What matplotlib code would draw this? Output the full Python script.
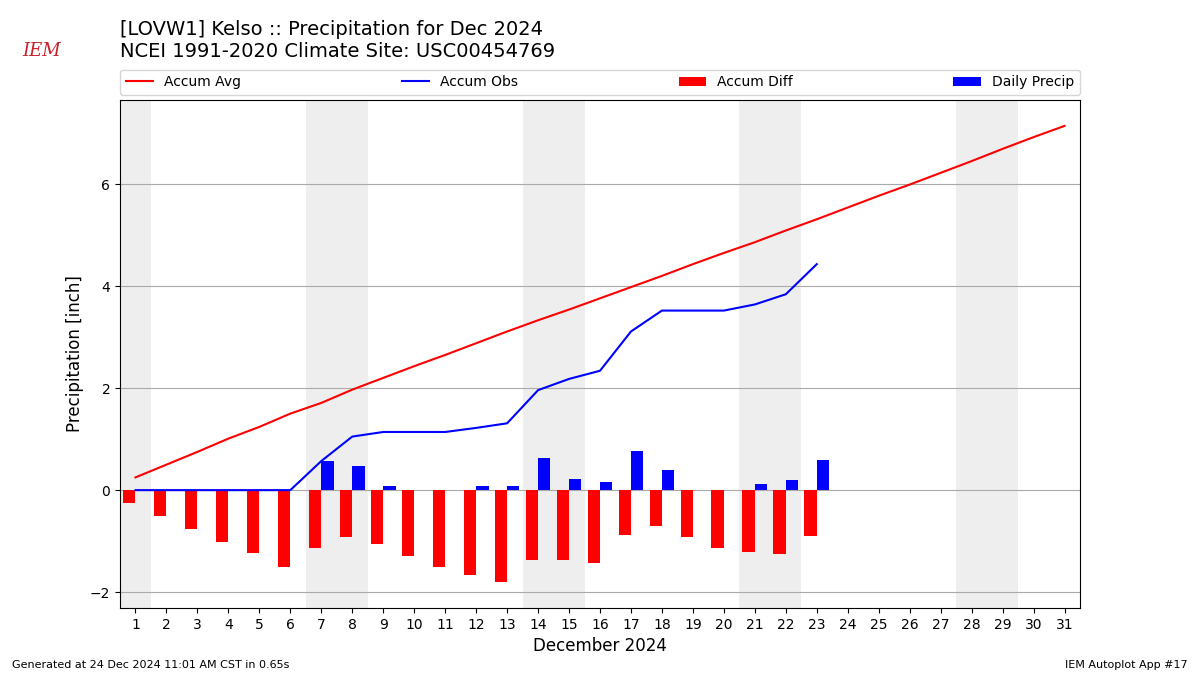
import matplotlib
matplotlib.use('Agg')
import matplotlib.pyplot as plt

days = list(range(1, 32))
accum_avg = [0.25, 0.50, 0.75, 1.01, 1.24, 1.50, 1.71, 1.97, 2.20, 2.43,
             2.65, 2.88, 3.11, 3.33, 3.54, 3.76, 3.98, 4.20, 4.43, 4.65,
             4.86, 5.09, 5.31, 5.54, 5.77, 5.99, 6.22, 6.45, 6.69, 6.92, 7.14]
obs_days = list(range(1, 24))
accum_obs = [0.0, 0.0, 0.0, 0.0, 0.0, 0.0, 0.57, 1.05, 1.14, 1.14,
             1.14, 1.22, 1.31, 1.96, 2.18, 2.34, 3.11, 3.52, 3.52, 3.52,
             3.64, 3.84, 4.43]
daily_precip = [0.0, 0.0, 0.0, 0.0, 0.0, 0.0, 0.57, 0.47, 0.08, 0.0,
                0.0, 0.08, 0.08, 0.63, 0.22, 0.16, 0.77, 0.39, 0.0, 0.0,
                0.12, 0.20, 0.59]
accum_diff = [-0.25, -0.50, -0.76, -1.01, -1.24, -1.50, -1.14, -0.92, -1.06, -1.29,
              -1.51, -1.66, -1.80, -1.37, -1.36, -1.42, -0.87, -0.70, -0.91, -1.13,
              -1.22, -1.25, -0.89]
weekends = [1, 7, 8, 14, 15, 21, 22, 28, 29]

fig = plt.figure(figsize=(12, 6.75), dpi=100)
ax = fig.add_axes([0.1, 0.0993, 0.8, 0.7527])

for d in weekends:
    ax.axvspan(d - 0.5, d + 0.5, color='#eeeeee', zorder=0, lw=0)

ax.plot(days, accum_avg, color='r', label='Accum Avg', zorder=3)
ax.plot(obs_days, accum_obs, color='b', label='Accum Obs', zorder=3)
ax.bar(obs_days, accum_diff, width=-0.4, align='edge', color='r', label='Accum Diff', zorder=2)
ax.bar(obs_days, daily_precip, width=0.4, align='edge', color='b', label='Daily Precip', zorder=2)

ax.set_xlim(0.5, 31.5)
ax.set_ylim(-2.31, 7.65)
ax.set_xticks(days)
ax.set_yticks([-2, 0, 2, 4, 6])
ax.grid(axis='y', color='#aaaaaa', zorder=1)
ax.set_axisbelow(True)
ax.set_xlabel('December 2024', fontsize=12)
ax.set_ylabel('Precipitation [inch]', fontsize=12)

ax.legend(loc='lower left', bbox_to_anchor=(0, 1.01, 1, 0.05), ncol=4,
          mode='expand', borderaxespad=0, fontsize=10)

fig.text(0.1, 0.97, '[LOVW1] Kelso :: Precipitation for Dec 2024\nNCEI 1991-2020 Climate Site: USC00454769',
         fontsize=14, va='top', ha='left')
fig.text(0.035, 0.925, 'IEM', color='#c8202a', fontsize=13, family='serif', style='italic',
         ha='center', va='center')
fig.text(0.01, 0.01, 'Generated at 24 Dec 2024 11:01 AM CST in 0.65s', fontsize=8)
fig.text(0.99, 0.01, 'IEM Autoplot App #17', fontsize=8, ha='right')

fig.savefig('out.png', dpi=100)
